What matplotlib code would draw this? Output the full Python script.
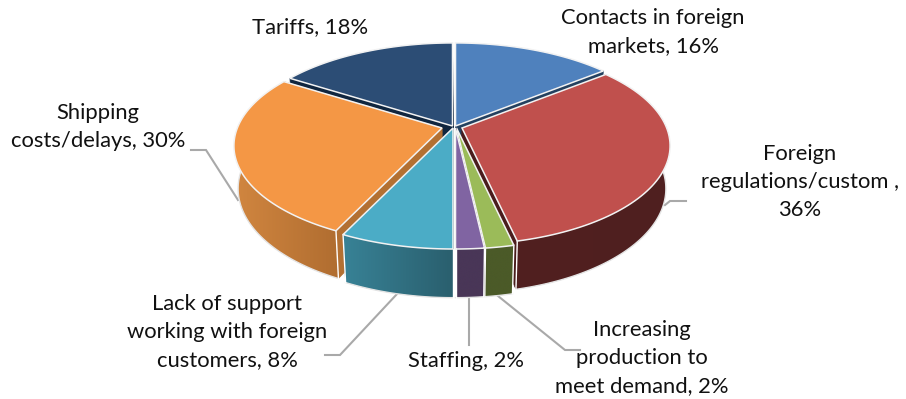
import numpy as np
import matplotlib

matplotlib.use("Agg")
import matplotlib.pyplot as plt
from matplotlib.colors import LinearSegmentedColormap
from matplotlib.patches import Polygon

plt.rcParams["font.family"] = ["Lato", "DejaVu Sans"]

# slices clockwise from 12 o'clock
categories = [
    "Contacts", "Foreign regulations", "Increasing production", "Staffing",
    "Lack of support", "Shipping", "Tariffs",
]
values = [16, 36, 2, 2, 8, 30, 18]
labels = [
    "Contacts in foreign\nmarkets, 16%",
    "Foreign\nregulations/custom ,\n36%",
    "Increasing\nproduction to\nmeet demand, 2%",
    "Staffing, 2%",
    "Lack of support\nworking with foreign\ncustomers, 8%",
    "Shipping\ncosts/delays, 30%",
    "Tariffs, 18%",
]

top_colors = ["#4F81BD", "#C0504D", "#9BBB59", "#8064A2", "#4BACC6", "#F49745", "#2C4D75"]
# wall shade at the left and right of each slice
wall_left = ["#2C4D75", "#512020", "#4B5A28", "#493657", "#388296", "#D18640", "#10263F"]
wall_right = ["#2C4D75", "#4F1F1F", "#4B5A28", "#493657", "#2A5F6E", "#B06D30", "#10263F"]
radial_colors = ["#23405F", "#4A1C1C", "#4B5A28", "#493657", "#2A5F6E", "#B37032", "#10263F"]

# per slice shift in pixels and radius scale
shifts = [(1.5, -2), (8, 0), (2.5, 0), (1.5, 0), (-1, 0), (-12, 0), (-1.5, -2)]
radius_scale = [1.0, 0.97, 1.0, 1.0, 1.0, 0.97, 1.0]
draw_order = [6, 0, 5, 1, 4, 2, 3]

# projection of the tilted disc
CX, CY = 454, 128
R = 211
K = 0.186
C = 98.5
DEPTH = 43
M = 0.02

label_pos = [(653, 32), (800, 182), (642, 358), (466, 361), (227, 332), (98, 127), (310, 27)]
leaders = [
    [(191, 150), (206, 150), (238, 200)],
    [(665, 205), (670, 201), (686, 201)],
    [(325, 355), (340, 355), (397, 294)],
    [(469, 297), (469, 345)],
    [(498, 296), (565, 350), (580, 350)],
]


def project(x, y, z=0.0):
    w = 1 + K * y + M * z
    return CX + R * x / w, CY - (C * y - DEPTH * z) / w


def arc_points(a0, a1, scale, shift, z=0.0, n=80):
    t = np.radians(np.linspace(a0, a1, n))
    px, py = project(scale * np.sin(t), scale * np.cos(t), z)
    return px + shift[0], py + shift[1]


def draw_outer_wall(ax, a0, a1, i, z0):
    # the far part of the rim never shows, keep only the near arc
    t = np.linspace(a0, a1, 120)
    near = t[np.cos(np.radians(t)) < 0.2]
    if len(near) < 2:
        return
    top_x, top_y = arc_points(near[0], near[-1], radius_scale[i], shifts[i])
    low_x, low_y = arc_points(near[0], near[-1], radius_scale[i], shifts[i], 1.0)

    band = list(zip(top_x, top_y)) + list(zip(low_x[::-1], low_y[::-1]))
    clip = Polygon(band, closed=True, transform=ax.transData, facecolor="none", edgecolor="none")
    ax.add_patch(clip)
    xs = [p[0] for p in band]
    ys = [p[1] for p in band]
    cmap = LinearSegmentedColormap.from_list("wall", [wall_left[i], wall_right[i]])
    img = ax.imshow(np.linspace(0, 1, 256)[None, :], cmap=cmap, aspect="auto",
                    extent=(min(xs), max(xs), max(ys), min(ys)), zorder=z0 + 0.1,
                    interpolation="bilinear")
    img.set_clip_path(clip)
    ax.plot(low_x, low_y, color="#E4E4E4", lw=1.0, zorder=z0 + 0.2)
    # vertical edges at the slice ends on the near half
    for j, a in ((0, a0), (-1, a1)):
        if np.cos(np.radians(a)) < 0:
            ax.plot([top_x[j], low_x[j]], [top_y[j], low_y[j]], color="white", lw=1.0,
                    zorder=z0 + 0.2)


def draw_slice(ax, a0, a1, i, z0):
    shift = shifts[i]
    scale = radius_scale[i]
    ox, oy = project(0.0, 0.0)
    ox, oy = ox + shift[0], oy + shift[1]
    bx, by = project(0.0, 0.0, 1.0)
    bx, by = bx + shift[0], by + shift[1]

    top_x, top_y = arc_points(a0, a1, scale, shift)
    low_x, low_y = arc_points(a0, a1, scale, shift, 1.0)

    # radial walls
    for j in (0, -1):
        quad = [(ox, oy), (top_x[j], top_y[j]), (low_x[j], low_y[j]), (bx, by)]
        ax.add_patch(Polygon(quad, closed=True, facecolor=radial_colors[i],
                             edgecolor=radial_colors[i], linewidth=0.5, zorder=z0))

    draw_outer_wall(ax, a0, a1, i, z0)

    # top face
    face = [(ox, oy)] + list(zip(top_x, top_y))
    ax.add_patch(Polygon(face, closed=True, facecolor=top_colors[i], edgecolor="#F2F2F2",
                         linewidth=1.1, joinstyle="miter", zorder=z0 + 0.3))


fig = plt.figure(figsize=(9.06, 3.99), dpi=100)
ax = fig.add_axes([0, 0, 1, 1])
ax.axis("off")

for pts in leaders:
    xs, ys = zip(*pts)
    ax.plot(xs, ys, color="#A9A9A9", lw=1.5, solid_joinstyle="miter", zorder=1)

edges = np.concatenate([[0], np.cumsum(values)]) / sum(values) * 360
for order, i in enumerate(draw_order):
    draw_slice(ax, edges[i], edges[i + 1], i, 2 + order)

ax.set_xlim(0, 906)
ax.set_ylim(399, 0)

for text, (x, y) in zip(labels, label_pos):
    ax.text(x, y, text, ha="center", va="center", fontsize=15.8,
            color="#111111", linespacing=1.5, zorder=20)

fig.savefig("out.png", dpi=100)
